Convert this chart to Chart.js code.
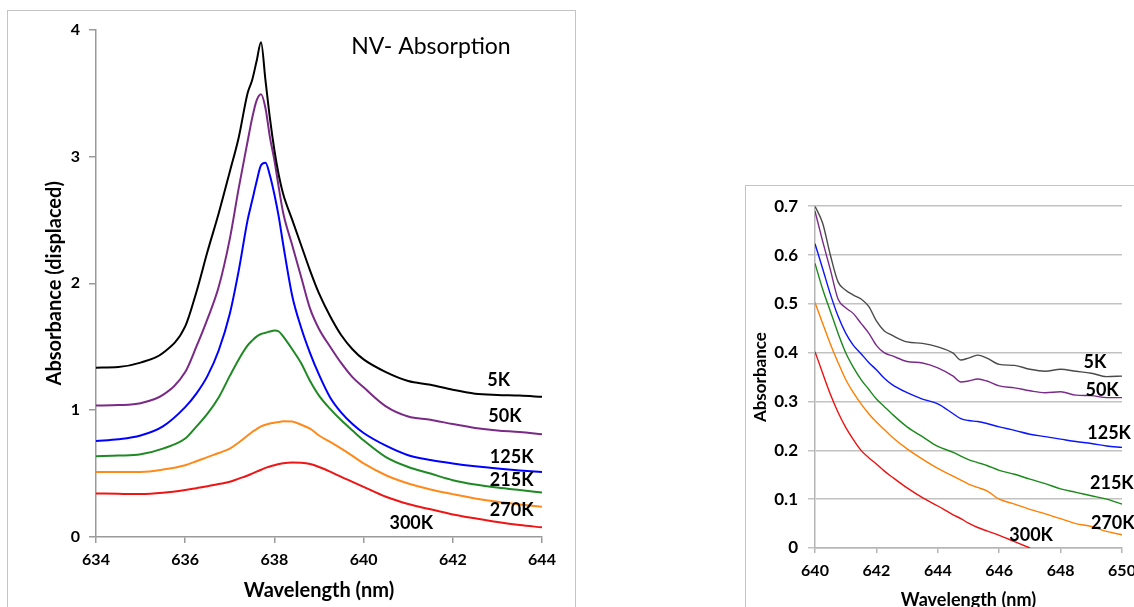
<!DOCTYPE html>
<html>
<head>
<meta charset="utf-8">
<script src="https://cdn.jsdelivr.net/npm/chart.js@4"></script>
<style>
    html, body { margin: 0; padding: 0; background: #fff; overflow: hidden; width: 1134px; height: 607px; }
    .frame { position: absolute; border: 1.5px solid #c4c4c4; background: #fff; overflow: hidden; }
    #leftFrame { left: 7px; top: 10px; width: 567px; height: 620px; }
    #rightFrame { left: 745px; top: 185px; width: 420px; height: 460px; }
    canvas { display: block; }
</style>
</head>
<body>
<div class="frame" id="leftFrame"><canvas id="leftChart" width="566" height="600"></canvas></div>
<div class="frame" id="rightFrame"><canvas id="rightChart" width="400" height="440"></canvas></div>

<script>
// ---- Left chart: NV- absorption peak (values displaced) ----
const leftWavelengths = [634, 634.5, 635, 635.5, 636, 636.25, 636.5, 636.75, 637, 637.2, 637.4, 637.5, 637.6, 637.7,
    637.8, 637.9, 638, 638.1, 638.2, 638.4, 638.6, 638.8, 639, 639.25, 639.5, 639.75, 640, 640.5, 641, 641.5,
    642, 642.5, 643, 643.5, 644];

const left5K = [1.335, 1.34, 1.375, 1.45, 1.66, 1.93, 2.25, 2.55, 2.88, 3.15, 3.5, 3.6, 3.75, 3.9,
    3.6, 3.3, 3.05, 2.85, 2.7, 2.5, 2.3, 2.1, 1.92, 1.74, 1.59, 1.48, 1.4, 1.3, 1.23, 1.2,
    1.16, 1.13, 1.12, 1.115, 1.105];
const left50K = [1.037, 1.04, 1.055, 1.12, 1.3, 1.5, 1.72, 1.97, 2.35, 2.75, 3.12, 3.3, 3.44, 3.49,
    3.38, 3.15, 2.97, 2.75, 2.55, 2.3, 2.05, 1.8, 1.64, 1.5, 1.37, 1.26, 1.18, 1.03, 0.95, 0.925,
    0.89, 0.86, 0.84, 0.828, 0.81];
const left125K = [0.757, 0.77, 0.8, 0.872, 1.024, 1.13, 1.27, 1.47, 1.76, 2.1, 2.5, 2.65, 2.8, 2.93,
    2.95, 2.85, 2.7, 2.52, 2.3, 1.9, 1.65, 1.45, 1.28, 1.1, 0.98, 0.89, 0.82, 0.72, 0.645, 0.607,
    0.58, 0.558, 0.54, 0.525, 0.513];
const left215K = [0.637, 0.642, 0.652, 0.697, 0.776, 0.87, 0.972, 1.1, 1.27, 1.4, 1.51, 1.548, 1.58, 1.6,
    1.61, 1.62, 1.627, 1.62, 1.58, 1.48, 1.37, 1.23, 1.115, 1.01, 0.92, 0.84, 0.762, 0.63, 0.552, 0.5,
    0.448, 0.414, 0.39, 0.37, 0.351];
const left270K = [0.513, 0.512, 0.513, 0.532, 0.566, 0.597, 0.63, 0.662, 0.697, 0.745, 0.8, 0.828, 0.85, 0.872,
    0.885, 0.895, 0.9, 0.907, 0.913, 0.91, 0.885, 0.854, 0.8, 0.75, 0.697, 0.64, 0.58, 0.487, 0.422, 0.375,
    0.338, 0.304, 0.277, 0.257, 0.238];
const left300K = [0.343, 0.34, 0.338, 0.348, 0.37, 0.385, 0.4, 0.417, 0.435, 0.46, 0.485, 0.5, 0.515, 0.53,
    0.545, 0.556, 0.566, 0.575, 0.582, 0.587, 0.585, 0.575, 0.552, 0.515, 0.474, 0.435, 0.395, 0.317, 0.26, 0.218,
    0.178, 0.147, 0.118, 0.094, 0.076];

const leftXTicks = [634, 636, 638, 640, 642, 644];
const leftYTicks = [0, 1, 2, 3, 4];

// ---- Right chart: tail of the absorption ----
const rightWavelengths = [640, 640.25, 640.5, 640.75, 641, 641.25, 641.5, 641.75, 642, 642.25, 642.5, 643, 643.5,
    644, 644.5, 644.75, 645, 645.3, 645.6, 646, 646.5, 647, 647.5, 648, 648.5, 649, 649.5, 650];

const right5K = [0.7, 0.665, 0.6, 0.545, 0.528, 0.518, 0.51, 0.495, 0.465, 0.445, 0.436, 0.422, 0.419,
    0.412, 0.399, 0.385, 0.389, 0.395, 0.389, 0.376, 0.374, 0.366, 0.362, 0.366, 0.362, 0.358, 0.351, 0.352];
const right50K = [0.69, 0.628, 0.57, 0.51, 0.492, 0.48, 0.46, 0.44, 0.415, 0.4, 0.394, 0.382, 0.379,
    0.369, 0.352, 0.34, 0.342, 0.346, 0.342, 0.332, 0.328, 0.322, 0.318, 0.32, 0.313, 0.312, 0.308, 0.308];
const right125K = [0.623, 0.572, 0.52, 0.475, 0.44, 0.415, 0.398, 0.38, 0.365, 0.348, 0.335, 0.318, 0.305,
    0.295, 0.275, 0.265, 0.261, 0.259, 0.255, 0.248, 0.241, 0.233, 0.228, 0.223, 0.218, 0.214, 0.209, 0.206];
const right215K = [0.583, 0.53, 0.485, 0.44, 0.4, 0.37, 0.345, 0.325, 0.305, 0.29, 0.275, 0.248, 0.228,
    0.208, 0.196, 0.188, 0.181, 0.175, 0.169, 0.159, 0.151, 0.141, 0.132, 0.121, 0.114, 0.107, 0.1, 0.09];
const right270K = [0.503, 0.46, 0.418, 0.38, 0.345, 0.318, 0.295, 0.275, 0.258, 0.243, 0.228, 0.203, 0.182,
    0.163, 0.147, 0.139, 0.131, 0.124, 0.117, 0.1, 0.09, 0.079, 0.07, 0.06, 0.05, 0.044, 0.034, 0.027];
const right300K = [0.402, 0.358, 0.315, 0.278, 0.247, 0.222, 0.2, 0.185, 0.172, 0.158, 0.146, 0.123, 0.103,
    0.086, 0.068, 0.06, 0.051, 0.042, 0.035, 0.026, 0.013, 0, null, null, null, null, null, null];

const seriesNames = ['5K', '50K', '125K', '215K', '270K', '300K'];

const FONT = 'Lato, "Open Sans", sans-serif';

function toPoints(xs, ys) {
    return xs.map((x, i) => ({x: x, y: ys[i]}));
}

// Draws the temperature labels next to the curves (anchored in data units)
const curveLabels = {
    id: 'curveLabels',
    afterDatasetsDraw(chart, args, opts) {
        const ctx = chart.ctx;
        const xs = chart.scales.x;
        const ys = chart.scales.y;
        ctx.save();
        ctx.fillStyle = '#000';
        ctx.font = 'bold ' + opts.size + 'px ' + FONT;
        ctx.textAlign = 'center';
        ctx.textBaseline = 'middle';
        opts.items.forEach(item => {
            ctx.fillText(item.text, xs.getPixelForValue(item.x), ys.getPixelForValue(item.y));
        });
        if (opts.title) {
            ctx.font = opts.title.size + 'px ' + FONT;
            ctx.fillText(opts.title.text, opts.title.cx, opts.title.cy);
        }
        ctx.restore();
    }
};

function makeDatasets(xs, lists, colors, width) {
    return lists.map((ys, i) => ({
        label: seriesNames[i],
        data: toPoints(xs, ys),
        borderColor: colors[i],
        backgroundColor: colors[i],
        borderWidth: width,
        pointRadius: 0,
        cubicInterpolationMode: 'monotone',
        spanGaps: false
    }));
}

document.addEventListener('DOMContentLoaded', function () {
    const leftColors = ['#000000', '#7a2a86', '#0000ff', '#1f8a24', '#ff8a1c', '#f01515'];

    new Chart(document.getElementById('leftChart'), {
        type: 'line',
        data: {
            datasets: makeDatasets(leftWavelengths, [left5K, left50K, left125K, left215K, left270K, left300K], leftColors, 2)
        },
        options: {
            responsive: false,
            animation: false,
            layout: {padding: {top: 17, right: 32, bottom: 0, left: 0}},
            scales: {
                x: {
                    type: 'linear',
                    min: 634,
                    max: 644,
                    afterFit: s => { s.height = 74; },
                    afterBuildTicks: s => { s.ticks = leftXTicks.map(v => ({value: v})); },
                    grid: {drawOnChartArea: false, drawTicks: true, tickLength: 6, color: '#9a9a9a', lineWidth: 1.5},
                    border: {color: '#9a9a9a', width: 1.5},
                    ticks: {color: '#000', font: {family: FONT, size: 16, weight: 'bold'}, padding: 7, maxRotation: 0},
                    title: {display: true, text: 'Wavelength (nm)', color: '#000',
                        font: {family: FONT, size: 20, weight: 'bold'}, padding: {top: 0, bottom: 8}}
                },
                y: {
                    min: 0,
                    max: 4,
                    afterFit: s => { s.width = 88; },
                    afterBuildTicks: s => { s.ticks = leftYTicks.map(v => ({value: v})); },
                    grid: {drawOnChartArea: false, drawTicks: true, tickLength: 7, color: '#9a9a9a', lineWidth: 1.5},
                    border: {color: '#9a9a9a', width: 1.5},
                    ticks: {color: '#000', font: {family: FONT, size: 16, weight: 'bold'}, padding: 9},
                    title: {display: true, text: 'Absorbance (displaced)', color: '#000',
                        font: {family: FONT, size: 20, weight: 'bold'}, padding: {top: 35, bottom: 0}}
                }
            },
            plugins: {
                legend: {display: false},
                tooltip: {enabled: false},
                curveLabels: {
                    size: 18,
                    items: [
                        {text: '5K', x: 643.03, y: 1.24},
                        {text: '50K', x: 643.17, y: 0.95},
                        {text: '125K', x: 643.32, y: 0.63},
                        {text: '215K', x: 643.32, y: 0.448},
                        {text: '270K', x: 643.32, y: 0.212},
                        {text: '300K', x: 641.07, y: 0.112}
                    ],
                    title: {text: 'NV- Absorption', size: 23, cx: 423, cy: 36}
                }
            }
        },
        plugins: [curveLabels]
    });

    const rightColors = ['#4a4a4a', '#7a2a8a', '#0a14ff', '#1b8a1b', '#ff7f00', '#ee1111'];

    new Chart(document.getElementById('rightChart'), {
        type: 'line',
        data: {
            datasets: makeDatasets(rightWavelengths, [right5K, right50K, right125K, right215K, right270K, right300K], rightColors, 1.4)
        },
        options: {
            responsive: false,
            animation: false,
            layout: {padding: {top: 14, right: 24, bottom: 0, left: 0}},
            scales: {
                x: {
                    type: 'linear',
                    min: 640,
                    max: 650,
                    afterFit: s => { s.height = 78; },
                    afterBuildTicks: s => { s.ticks = [640, 642, 644, 646, 648, 650].map(v => ({value: v})); },
                    grid: {drawOnChartArea: false, drawTicks: true, tickLength: 5, color: '#b5b5b5', lineWidth: 1.5},
                    border: {color: '#b5b5b5', width: 1.5},
                    ticks: {color: '#000', font: {family: FONT, size: 16, weight: 'bold'}, padding: 8, maxRotation: 0},
                    title: {display: true, text: 'Wavelength (nm)', color: '#000',
                        font: {family: FONT, size: 18, weight: 'bold'}, padding: {top: 0, bottom: 15}}
                },
                y: {
                    min: 0,
                    max: 0.7,
                    afterFit: s => { s.width = 69; },
                    afterBuildTicks: s => { s.ticks = [0, 0.1, 0.2, 0.3, 0.4, 0.5, 0.6, 0.7].map(v => ({value: v})); },
                    grid: {drawOnChartArea: true, drawTicks: true, tickLength: 7, color: '#c2c2c2', lineWidth: 1.5},
                    border: {color: '#b5b5b5', width: 1.5},
                    ticks: {color: '#000', font: {family: FONT, size: 17, weight: 'bold'}, padding: 10,
                        callback: v => v === 0 ? '0' : v.toFixed(1)},
                    title: {display: true, text: 'Absorbance', color: '#000',
                        font: {family: FONT, size: 17, weight: 'bold'}, padding: {top: 4, bottom: 0}}
                }
            },
            plugins: {
                legend: {display: false},
                tooltip: {enabled: false},
                curveLabels: {
                    size: 18,
                    items: [
                        {text: '5K', x: 649.12, y: 0.38},
                        {text: '50K', x: 649.35, y: 0.323},
                        {text: '125K', x: 649.58, y: 0.236},
                        {text: '215K', x: 649.67, y: 0.133},
                        {text: '270K', x: 649.7, y: 0.051},
                        {text: '300K', x: 647.04, y: 0.026}
                    ]
                }
            }
        },
        plugins: [curveLabels]
    });
});
</script>
</body>
</html>
